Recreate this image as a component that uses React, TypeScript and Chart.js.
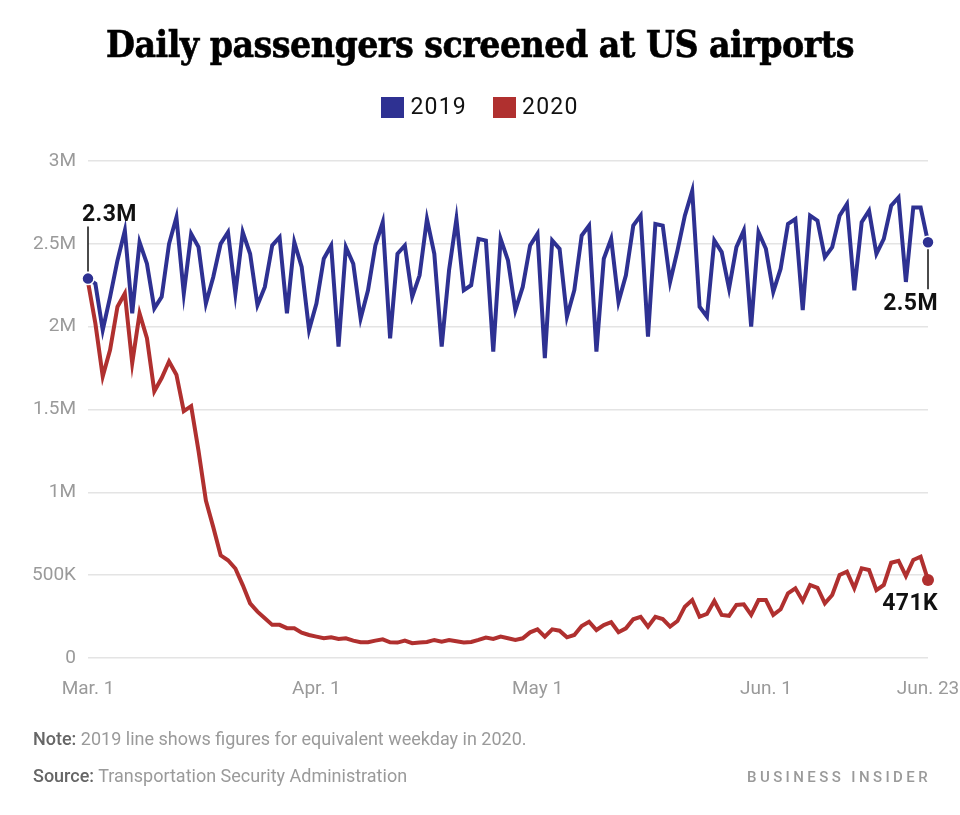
import React, { useEffect, useRef } from "react";
import { Chart, registerables } from "chart.js";

Chart.register(...registerables);

// ---- data ----
const tickIndexes = [0, 31, 61, 92, 114];
const xTickLabels = ["Mar. 1", "Apr. 1", "May 1", "Jun. 1", "Jun. 23"];
const yTickLabels = ["0", "500K", "1M", "1.5M", "2M", "2.5M", "3M"];

// 2019 passengers (millions), equivalent weekday
const series2019 = [
  2.29, 2.26, 1.98, 2.18, 2.40, 2.58, 2.08, 2.51, 2.38, 2.11,
  2.18, 2.50, 2.66, 2.20, 2.56, 2.48, 2.14, 2.30, 2.50, 2.57,
  2.20, 2.57, 2.44, 2.13, 2.24, 2.49, 2.54, 2.08, 2.51, 2.36,
  1.98, 2.14, 2.41, 2.49, 1.88, 2.48, 2.38, 2.05, 2.22, 2.49,
  2.63, 1.93, 2.44, 2.49, 2.18, 2.31, 2.65, 2.44, 1.88, 2.34,
  2.65, 2.22, 2.25, 2.53, 2.52, 1.85, 2.53, 2.40, 2.10, 2.24,
  2.49, 2.56, 1.81, 2.52, 2.47, 2.06, 2.22, 2.55, 2.61, 1.85,
  2.41, 2.53, 2.15, 2.31, 2.61, 2.67, 1.94, 2.62, 2.61, 2.27,
  2.46, 2.67, 2.82, 2.12, 2.06, 2.52, 2.45, 2.23, 2.48, 2.58,
  2.00, 2.57, 2.47, 2.21, 2.35, 2.62, 2.65, 2.10, 2.67, 2.64,
  2.42, 2.48, 2.67, 2.74, 2.22, 2.63, 2.70, 2.44, 2.53, 2.73,
  2.78, 2.27, 2.72, 2.72, 2.51,
];

// 2020 passengers (thousands)
const series2020 = [
  2270, 2020, 1700, 1860, 2120, 2200, 1780, 2080, 1930, 1610,
  1690, 1790, 1710, 1490, 1520, 1250, 950, 790, 620, 590,
  540, 440, 330, 280, 240, 200, 200, 180, 180, 153,
  139, 129, 119, 125, 115, 119, 105, 95, 95, 105,
  113, 95, 93, 105, 89, 93, 97, 109, 99, 109,
  101, 93, 97, 109, 123, 115, 129, 119, 109, 119,
  155, 173, 129, 173, 165, 125, 139, 193, 219, 169,
  199, 216, 156, 179, 234, 249, 189, 249, 235, 189,
  223, 310, 350, 249, 266, 344, 260, 255, 320, 324,
  260, 350, 350, 260, 294, 391, 421, 344, 441, 424,
  330, 380, 501, 521, 421, 541, 531, 410, 441, 575,
  587, 495, 592, 611, 471,
];

const startLabel = "2.3M";
const endLabel2019 = "2.5M";
const endLabel2020 = "471K";

// categories: each day Mar 1 – Jun 23, 2020
const days: string[] = [];
{
  const d = new Date(Date.UTC(2020, 2, 1));
  for (let i = 0; i < series2020.length; i++) {
    days.push(d.toISOString().slice(0, 10));
    d.setUTCDate(d.getUTCDate() + 1);
  }
}

const BLUE = "#2e3192";
const RED = "#b0302f";

const annotationPlugin = {
  id: "endLabels",
  afterDatasetsDraw(chart: any) {
    const ctx = chart.ctx;
    const m0 = chart.getDatasetMeta(0).data;
    const m1 = chart.getDatasetMeta(1).data;
    const p0 = m0[0];
    const pEnd = m0[m0.length - 1];
    const rEnd = m1[m1.length - 1];
    ctx.save();
    ctx.strokeStyle = "#111";
    ctx.lineWidth = 1.5;
    ctx.beginPath();
    ctx.moveTo(p0.x, p0.y - 52);
    ctx.lineTo(p0.x, p0.y - 7);
    ctx.moveTo(pEnd.x, pEnd.y + 7);
    ctx.lineTo(pEnd.x, pEnd.y + 47);
    ctx.stroke();
    ctx.fillStyle = "#111";
    ctx.font = "bold 23px Roboto";
    try {
      (ctx as any).letterSpacing = "0.4px";
    } catch (e) {}
    ctx.textBaseline = "alphabetic";
    ctx.textAlign = "left";
    ctx.fillText(startLabel, p0.x - 6, p0.y - 58);
    ctx.textAlign = "right";
    ctx.fillText(endLabel2019, pEnd.x + 10, pEnd.y + 68);
    ctx.fillText(endLabel2020, rEnd.x + 10, rEnd.y + 30);
    ctx.restore();
  },
};

function pointRadii(n: number, idx: number[]) {
  const r: number[] = [];
  for (let i = 0; i < n; i++) r.push(idx.includes(i) ? 6 : 0);
  return r;
}

export default function App() {
  const ref = useRef<HTMLCanvasElement | null>(null);
  useEffect(() => {
    if (!ref.current) return;
    const chart = new Chart(ref.current, {
      type: "line",
      data: {
        labels: days,
        datasets: [
          {
            label: "2019",
            data: series2019.map((v) => v * 1e6),
            borderColor: BLUE,
            backgroundColor: BLUE,
            borderWidth: 4,
            tension: 0,
            borderJoinStyle: "miter",
            pointRadius: pointRadii(series2019.length, [0, series2019.length - 1]),
            pointBackgroundColor: BLUE,
            pointBorderColor: "#fff",
            pointBorderWidth: 1.5,
            pointHoverRadius: 0,
          },
          {
            label: "2020",
            data: series2020.map((v) => v * 1e3),
            borderColor: RED,
            backgroundColor: RED,
            borderWidth: 4,
            tension: 0,
            borderJoinStyle: "miter",
            pointRadius: pointRadii(series2020.length, [series2020.length - 1]),
            pointBackgroundColor: RED,
            pointBorderColor: RED,
            pointBorderWidth: 0,
            pointHoverRadius: 0,
          },
        ],
      },
      options: {
        animation: false,
        responsive: false,
        maintainAspectRatio: false,
        events: [],
        layout: { padding: { left: 0, right: 32, top: 161, bottom: 107 } },
        plugins: {
          legend: { display: false },
          tooltip: { enabled: false },
          title: { display: false },
        },
        scales: {
          x: {
            type: "category",
            offset: false,
            grid: { display: false, drawTicks: false },
            border: { display: false },
            afterFit: (s: any) => {
              s.height = 50;
              s.paddingLeft = 0;
              s.paddingRight = 0;
            },
            ticks: {
              autoSkip: false,
              maxRotation: 0,
              minRotation: 0,
              padding: 20,
              color: "#9a9a9a",
              font: { family: "Roboto", size: 19 },
              callback: (_v: any, i: number) => {
                const k = tickIndexes.indexOf(i);
                return k >= 0 ? xTickLabels[k] : "";
              },
            },
          },
          y: {
            min: 0,
            max: 3000000,
            afterFit: (s: any) => {
              s.width = 88;
              s.paddingTop = 0;
              s.paddingBottom = 0;
            },
            grid: { color: "#e4e4e4", lineWidth: 1.5, drawTicks: false },
            border: { display: false },
            ticks: {
              stepSize: 500000,
              padding: 12,
              color: "#9a9a9a",
              font: { family: "Roboto", size: 19 },
              callback: (v: any) => yTickLabels[Math.round(Number(v) / 500000)],
            },
          },
        },
      },
      plugins: [annotationPlugin],
    });
    return () => chart.destroy();
  }, []);

  return (
    <div
      style={{
        position: "fixed",
        left: 0,
        top: 0,
        width: 960,
        height: 815,
        background: "#fff",
        overflow: "hidden",
      }}
    >
      <canvas
        ref={ref}
        width={960}
        height={815}
        style={{ position: "absolute", left: 0, top: 0, width: 960, height: 815 }}
      />
      <div
        style={{
          position: "absolute",
          left: 0,
          top: 22,
          width: 960,
          textAlign: "center",
          fontFamily: "'DejaVu Serif Condensed', 'DejaVu Serif', serif",
          fontWeight: "bold",
          fontSize: 37,
          lineHeight: "44px",
          letterSpacing: "-0.5px",
          WebkitTextStroke: "0.6px #000",
          color: "#000",
        }}
      >
        Daily passengers screened at US airports
      </div>
      <div
        style={{
          position: "absolute",
          left: 0,
          top: 92,
          width: 960,
          display: "flex",
          justifyContent: "center",
          alignItems: "center",
          fontFamily: "Roboto, sans-serif",
          fontSize: 23,
          lineHeight: "30px",
          letterSpacing: "1.2px",
          color: "#111",
        }}
      >
        <span style={{ display: "inline-block", width: 23, height: 21, background: BLUE, marginRight: 6 }} />
        <span style={{ marginRight: 26 }}>2019</span>
        <span style={{ display: "inline-block", width: 23, height: 21, background: RED, marginRight: 6 }} />
        <span>2020</span>
      </div>
      <div
        style={{
          position: "absolute",
          left: 33,
          top: 727,
          fontFamily: "Roboto, sans-serif",
          fontSize: 18,
          lineHeight: "24px",
          color: "#9a9a9a",
        }}
      >
        <span style={{ color: "#666", fontWeight: 500 }}>Note:</span> 2019 line shows figures for equivalent weekday in 2020.
      </div>
      <div
        style={{
          position: "absolute",
          left: 33,
          top: 764,
          fontFamily: "Roboto, sans-serif",
          fontSize: 18,
          lineHeight: "24px",
          color: "#9a9a9a",
        }}
      >
        <span style={{ color: "#666", fontWeight: 500 }}>Source:</span> Transportation Security Administration
      </div>
      <div
        style={{
          position: "absolute",
          right: 29,
          top: 766,
          fontFamily: "Roboto, sans-serif",
          fontSize: 15,
          fontWeight: 500,
          lineHeight: "22px",
          letterSpacing: "3.4px",
          color: "#9a9a9a",
        }}
      >
        BUSINESS INSIDER
      </div>
    </div>
  );
}
